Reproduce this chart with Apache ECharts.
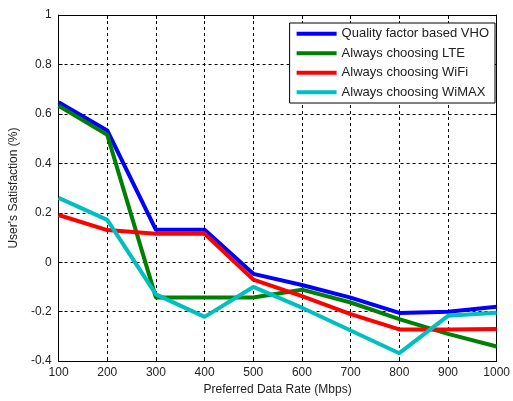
<!DOCTYPE html>
<html><head><meta charset="utf-8">
<script src="https://cdn.jsdelivr.net/npm/echarts@6/dist/echarts.min.js"></script>
<style>html,body{margin:0;padding:0;background:#fff}#c{width:513px;height:401px}</style>
</head><body><div id="c"></div>
<script>
const rates = [100, 200, 300, 400, 500, 600, 700, 800, 900, 1000];
const vho = [0.647, 0.533, 0.131, 0.131, -0.047, -0.092, -0.143, -0.205, -0.2, -0.18];
const lte = [0.633, 0.515, -0.143, -0.143, -0.143, -0.111, -0.163, -0.23, -0.29, -0.341];
const wifi = [0.191, 0.13, 0.115, 0.115, -0.07, -0.137, -0.21, -0.272, -0.272, -0.27];
const wimax = [0.26, 0.171, -0.13, -0.221, -0.1, -0.184, -0.276, -0.368, -0.217, -0.204];
const names = ['Quality factor based VHO', 'Always choosing LTE', 'Always choosing WiFi', 'Always choosing WiMAX'];
const colors = ['#0000ff', '#008000', '#ff0000', '#00bfbf'];
const values = [vho, lte, wifi, wimax];

const chart = echarts.init(document.getElementById('c'), null, {renderer: 'canvas'});
const font = 'Liberation Sans, Arial, sans-serif';
const axisCommon = {
  axisLine: {show: true, onZero: false, lineStyle: {color: '#000', width: 1}},
  axisTick: {show: true, inside: true, length: 4, lineStyle: {color: '#000'}},
  axisLabel: {color: '#222', fontSize: 12, fontFamily: font},
  nameTextStyle: {color: '#222', fontSize: 12, fontFamily: font}
};
chart.setOption({
  animation: false,
  backgroundColor: '#fff',
  grid: {left: 58, right: 13, top: 15, bottom: 37, show: false},
  legend: {
    data: names, orient: 'vertical', right: 18, top: 23,
    backgroundColor: '#fff', borderColor: '#000', borderWidth: 1,
    padding: [4, 6, 4, 7], itemGap: 6, itemWidth: 40, itemHeight: 4, icon: 'rect',
    textStyle: {fontSize: 13, fontFamily: font, color: '#222', lineHeight: 13.5}
  },
  xAxis: [
    Object.assign({}, axisCommon, {
      type: 'value', min: 100, max: 1000, interval: 100, position: 'bottom',
      name: 'Preferred Data Rate (Mbps)', nameLocation: 'middle', nameGap: 19,
      axisLabel: Object.assign({}, axisCommon.axisLabel, {margin: 6, formatter: v => String(v)}),
      splitLine: {show: true, lineStyle: {color: '#000', type: [3, 3], width: 1}}
    }),
    Object.assign({}, axisCommon, {
      type: 'value', min: 100, max: 1000, interval: 100, position: 'top',
      axisLabel: {show: false}, splitLine: {show: false}
    })
  ],
  yAxis: [
    Object.assign({}, axisCommon, {
      type: 'value', min: -0.4, max: 1, interval: 0.2, position: 'left',
      name: "User's Satisfaction (%)", nameLocation: 'middle', nameGap: 37,
      axisLabel: Object.assign({}, axisCommon.axisLabel, {margin: 7}),
      splitLine: {show: true, lineStyle: {color: '#000', type: [3, 3], width: 1}}
    }),
    Object.assign({}, axisCommon, {
      type: 'value', min: -0.4, max: 1, interval: 0.2, position: 'right',
      axisLabel: {show: false}, splitLine: {show: false}
    })
  ],
  series: names.map((n, i) => ({
    name: n, type: 'line', symbol: 'none', color: colors[i],
    lineStyle: {width: 4, color: colors[i]},
    data: rates.map((r, j) => [r, values[i][j]])
  }))
});
</script></body></html>
